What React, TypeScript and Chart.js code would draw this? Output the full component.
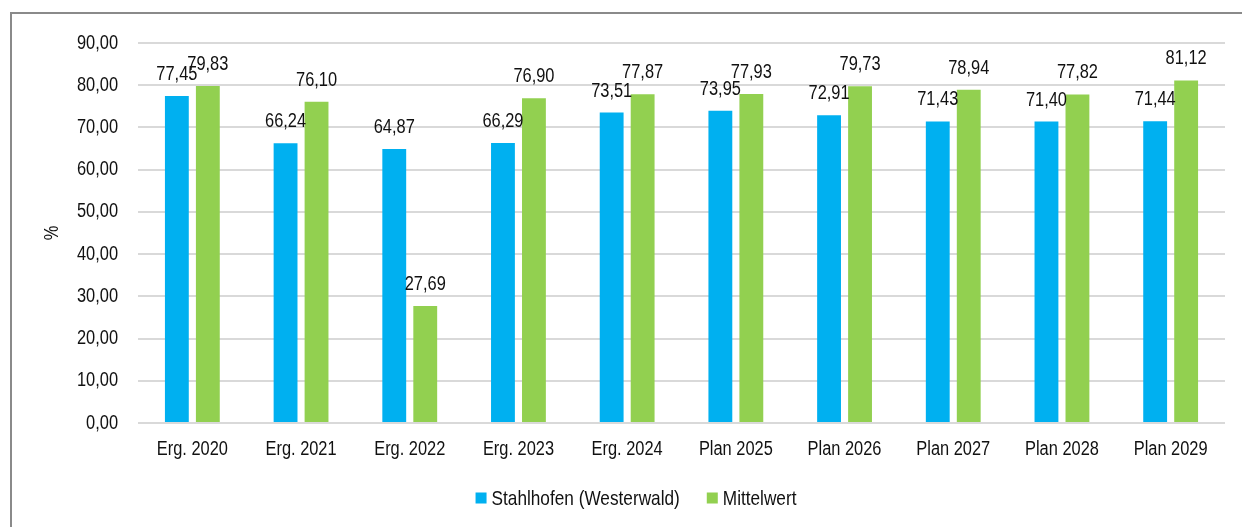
import React, { useEffect, useRef } from "react";
import { Chart, registerables } from "chart.js";

Chart.register(...registerables);

const categories = [
  "Erg. 2020",
  "Erg. 2021",
  "Erg. 2022",
  "Erg. 2023",
  "Erg. 2024",
  "Plan 2025",
  "Plan 2026",
  "Plan 2027",
  "Plan 2028",
  "Plan 2029",
];
const stahlhofen = [77.45, 66.24, 64.87, 66.29, 73.51, 73.95, 72.91, 71.43, 71.4, 71.44];
const mittelwert = [79.83, 76.1, 27.69, 76.9, 77.87, 77.93, 79.73, 78.94, 77.82, 81.12];
const seriesNames = ["Stahlhofen (Westerwald)", "Mittelwert"];
const seriesColors = ["#00B0F0", "#92D050"];
const yMin = 0;
const yMax = 90;
const yStep = 10;
const yTitle = "%";

const FONT = "'Liberation Sans', Arial, sans-serif";
const TEXT = "#111";
const SX = 0.82; // horizontal squeeze to mimic a narrow face
const fmt = (v: number) => v.toFixed(2).replace(".", ",");

const labelPlugin = {
  id: "valueLabels",
  afterDatasetsDraw(chart: any) {
    const ctx = chart.ctx;
    ctx.save();
    ctx.font = `20px ${FONT}`;
    ctx.fillStyle = TEXT;
    ctx.textAlign = "center";
    ctx.textBaseline = "alphabetic";
    chart.data.datasets.forEach((ds: any, di: number) => {
      const meta = chart.getDatasetMeta(di);
      meta.data.forEach((bar: any, i: number) => {
        ctx.fillText(fmt(ds.data[i]), bar.x, bar.y - 16);
      });
    });
    ctx.restore();
  },
};

const legendPlugin = {
  id: "customLegend",
  afterDraw(chart: any) {
    const ctx = chart.ctx;
    ctx.save();
    ctx.font = `21px ${FONT}`;
    ctx.textAlign = "left";
    ctx.textBaseline = "alphabetic";
    const box = 11;
    const gapBox = 5;
    const gapItem = 27;
    const widths = seriesNames.map((n) => ctx.measureText(n).width);
    const total =
      widths.reduce((a, w) => a + box + gapBox + w, 0) + gapItem * (seriesNames.length - 1);
    let x = 636 - total / 2;
    const cy = 498;
    seriesNames.forEach((n, i) => {
      ctx.fillStyle = seriesColors[i];
      ctx.fillRect(x, cy - box / 2, box, box);
      ctx.fillStyle = TEXT;
      ctx.fillText(n, x + box + gapBox, cy + 6.5);
      x += box + gapBox + widths[i] + gapItem;
    });
    ctx.restore();
  },
};

export default function App() {
  const ref = useRef<HTMLCanvasElement>(null);
  useEffect(() => {
    if (!ref.current) return;
    const ctx: any = ref.current.getContext("2d");
    const origFill = ctx.fillText.bind(ctx);
    const origMeasure = ctx.measureText.bind(ctx);
    ctx.fillText = (text: string, x: number, y: number) => {
      ctx.save();
      ctx.translate(x, y);
      ctx.scale(SX, 1);
      origFill(text, 0, 0);
      ctx.restore();
    };
    ctx.measureText = (t: string) => {
      const m = origMeasure(t);
      return {
        width: m.width * SX,
        actualBoundingBoxAscent: m.actualBoundingBoxAscent,
        actualBoundingBoxDescent: m.actualBoundingBoxDescent,
        actualBoundingBoxLeft: m.actualBoundingBoxLeft * SX,
        actualBoundingBoxRight: m.actualBoundingBoxRight * SX,
        fontBoundingBoxAscent: m.fontBoundingBoxAscent,
        fontBoundingBoxDescent: m.fontBoundingBoxDescent,
      };
    };
    const chart = new Chart(ctx, {
      type: "bar",
      data: {
        labels: categories,
        datasets: [
          {
            label: seriesNames[0],
            data: stahlhofen,
            backgroundColor: seriesColors[0],
            categoryPercentage: 0.57,
            barPercentage: 0.77,
          },
          {
            label: seriesNames[1],
            data: mittelwert,
            backgroundColor: seriesColors[1],
            categoryPercentage: 0.57,
            barPercentage: 0.77,
          },
        ],
      },
      options: {
        responsive: false,
        animation: false,
        layout: { padding: { left: 0, right: 17, top: 43, bottom: 50 } },
        plugins: {
          legend: { display: false },
          tooltip: { enabled: false },
        },
        scales: {
          x: {
            grid: { display: false, drawTicks: false },
            border: { display: false },
            ticks: { color: TEXT, font: { family: FONT, size: 20 }, padding: 14, maxRotation: 0 },
            afterFit: (s: any) => {
              s.height = 54;
            },
          },
          y: {
            min: yMin,
            max: yMax,
            ticks: {
              stepSize: yStep,
              color: TEXT,
              font: { family: FONT, size: 20 },
              padding: 20,
              callback: (v: any) => fmt(Number(v)),
            },
            grid: { color: "#d9d9d9", lineWidth: 2, drawTicks: false },
            border: { display: false },
            title: {
              display: true,
              text: yTitle,
              color: TEXT,
              font: { family: FONT, size: 20 },
              padding: { top: 40, bottom: 0 },
            },
            afterFit: (s: any) => {
              s.width = 138;
            },
          },
        },
      },
      plugins: [labelPlugin, legendPlugin],
    });
    return () => chart.destroy();
  }, []);
  return (
    <div style={{ position: "fixed", left: 0, top: 0, width: 1242, height: 527, background: "#fff", overflow: "hidden" }}>
      <canvas ref={ref} width={1242} height={527} style={{ position: "absolute", left: 0, top: 0 }} />
      <div
        style={{
          position: "absolute",
          left: 10,
          top: 12,
          width: 1240,
          height: 600,
          borderLeft: "2px solid #8a8a8a",
          borderTop: "2px solid #8a8a8a",
          pointerEvents: "none",
        }}
      />
    </div>
  );
}
